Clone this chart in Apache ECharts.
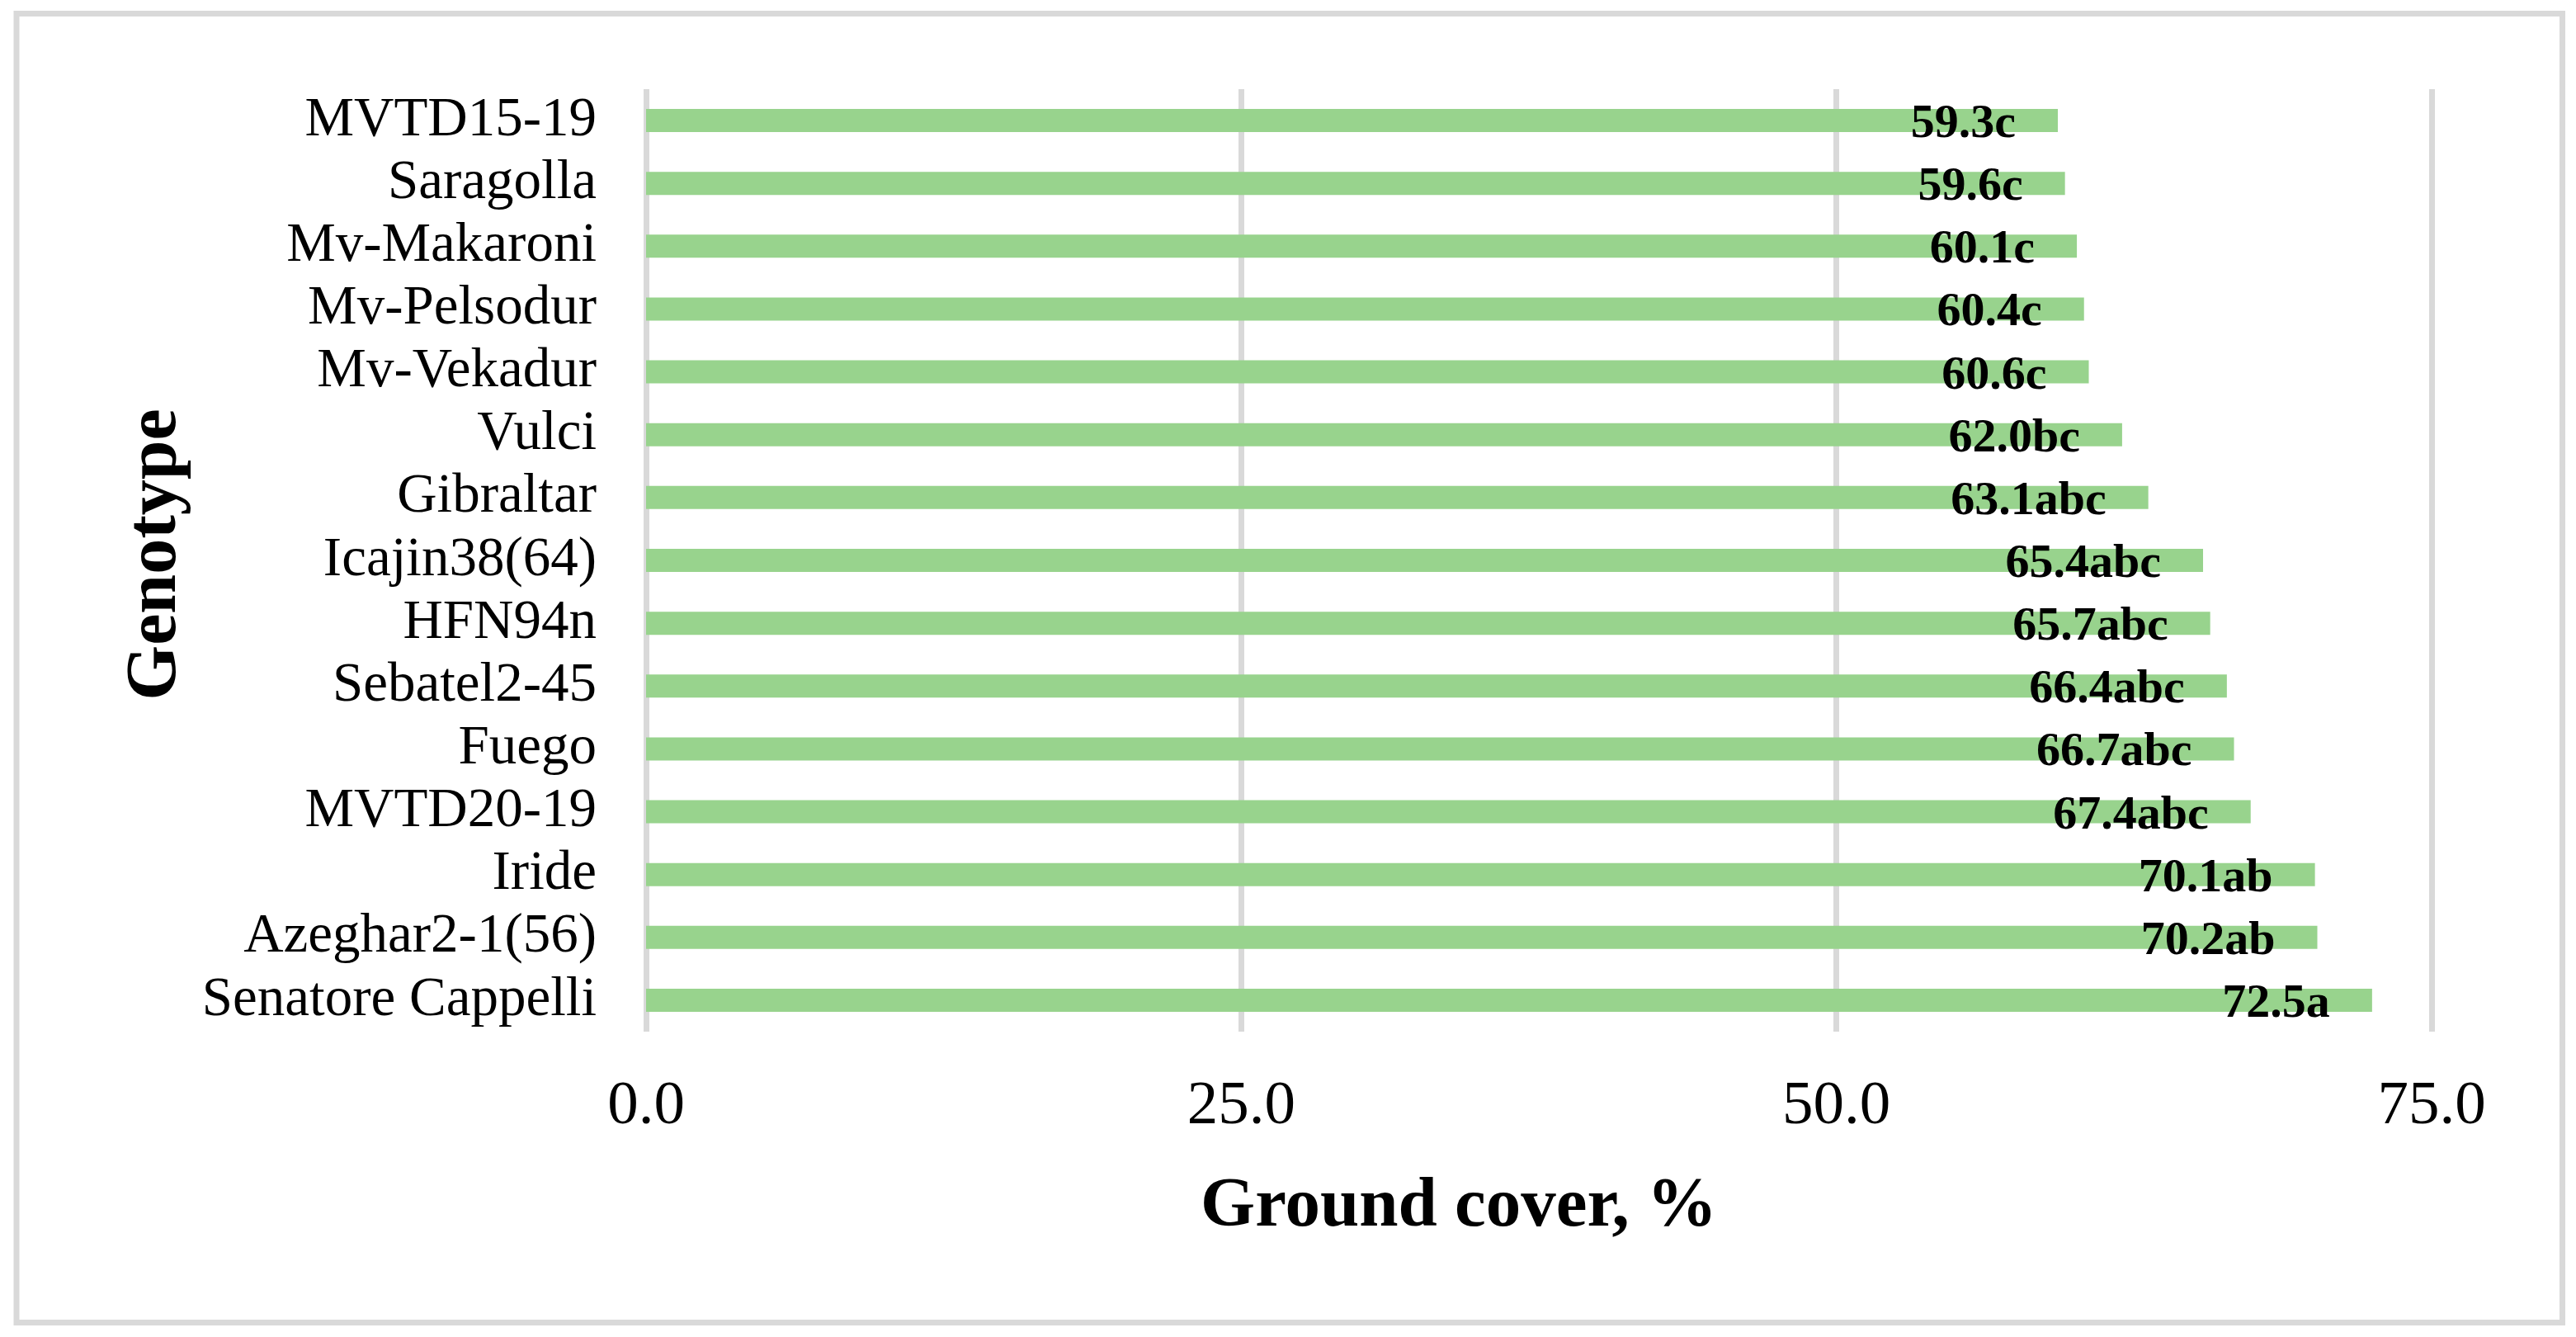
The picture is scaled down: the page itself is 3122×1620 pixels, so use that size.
<!DOCTYPE html>
<html>
<head>
<meta charset="utf-8">
<script src="https://cdn.jsdelivr.net/npm/echarts@6/dist/echarts.min.js"></script>
<style>
html,body{margin:0;padding:0;background:#fff;}
#c{width:3122px;height:1620px;}
</style>
</head>
<body>
<div id="c"></div>
<script>
const genotypes = ["MVTD15-19","Saragolla","Mv-Makaroni","Mv-Pelsodur","Mv-Vekadur","Vulci","Gibraltar","Icajin38(64)","HFN94n","Sebatel2-45","Fuego","MVTD20-19","Iride","Azeghar2-1(56)","Senatore Cappelli"];
const groundCover = [59.3,59.6,60.1,60.4,60.6,62.0,63.1,65.4,65.7,66.4,66.7,67.4,70.1,70.2,72.5];
const letters = ["c","c","c","c","c","bc","abc","abc","abc","abc","abc","abc","ab","ab","a"];
const xTicks = [0,25,50,75];

const FONT = '"Liberation Serif","Times New Roman",serif';
const chart = echarts.init(document.getElementById('c'));
chart.setOption({
  backgroundColor:'#ffffff',
  animation:false,
  grid:{left:783,right:175,top:108,bottom:370,containLabel:false},
  xAxis:{
    type:'value',min:xTicks[0],max:xTicks[xTicks.length-1],interval:25,
    axisLine:{show:false},axisTick:{show:false},
    splitLine:{show:true,lineStyle:{color:'#d9d9d9',width:7}},
    axisLabel:{fontFamily:FONT,fontSize:75,color:'#000',margin:54,formatter:v=>v.toFixed(1)}
  },
  yAxis:{
    type:'category',data:genotypes,inverse:true,
    axisLine:{show:false},axisTick:{show:false},splitLine:{show:false},
    axisLabel:{fontFamily:FONT,fontSize:67,color:'#000',margin:60,interval:0,padding:[6,0,0,0]}
  },
  series:[{
    type:'bar',
    data:groundCover,
    barWidth:28,
    itemStyle:{color:'#98d38d'},
    label:{
      show:true,position:'insideRight',distance:51,offset:[0,5],
      fontFamily:FONT,fontWeight:'bold',fontSize:58,color:'#000',
      formatter:p=>p.value.toFixed(1)+letters[p.dataIndex]
    }
  }],
  graphic:[
    {type:'rect',shape:{x:20,y:16.5,width:3085.5,height:1586},style:{fill:'none',stroke:'#d9d9d9',lineWidth:7},z:-1},
    {type:'text',x:1768,y:1463,style:{text:'Ground cover, %',font:'bold 85px '+FONT,fill:'#000',textAlign:'center',textVerticalAlign:'middle'}},
    {type:'text',x:190,y:672,rotation:Math.PI/2,style:{text:'Genotype',font:'bold 86px '+FONT,fill:'#000',textAlign:'center',textVerticalAlign:'middle'}}
  ]
});
</script>
</body>
</html>
